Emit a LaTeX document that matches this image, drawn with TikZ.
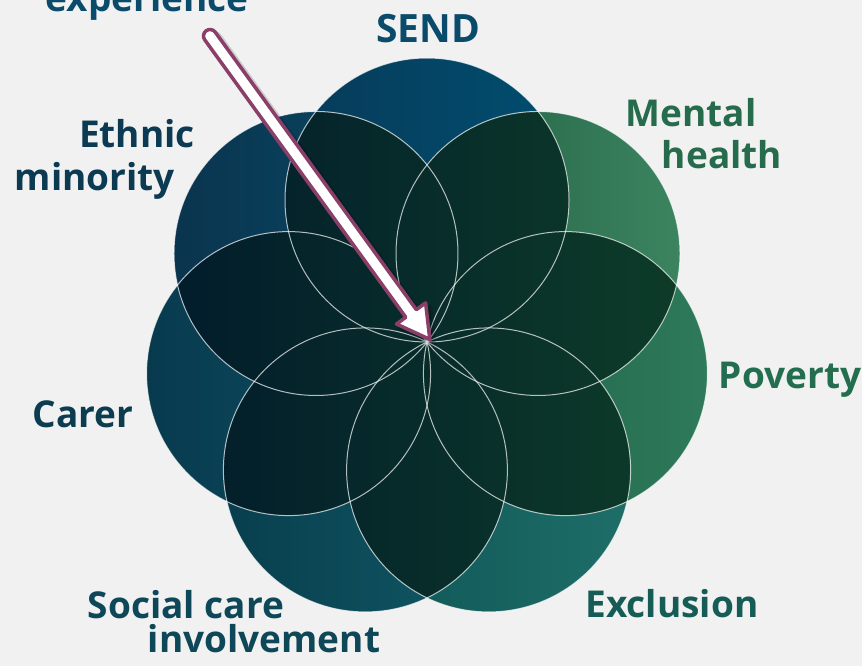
\documentclass[tikz,border=0pt]{standalone}
\usepackage{fontspec}
\setmainfont{Open Sans}
\usetikzlibrary{calc}
\definecolor{bg}{RGB}{241,241,241}
\definecolor{sendL}{RGB}{8,58,88}\definecolor{sendR}{RGB}{0,78,112}
\definecolor{mentL}{RGB}{30,92,66}\definecolor{mentR}{RGB}{60,132,96}
\definecolor{povL}{RGB}{30,96,72}\definecolor{povR}{RGB}{46,122,90}
\definecolor{exclL}{RGB}{14,84,86}\definecolor{exclR}{RGB}{30,110,104}
\definecolor{socL}{RGB}{8,62,78}\definecolor{socR}{RGB}{18,90,102}
\definecolor{carL}{RGB}{8,58,78}\definecolor{carR}{RGB}{14,82,100}
\definecolor{ethL}{RGB}{10,52,78}\definecolor{ethR}{RGB}{8,76,104}
\definecolor{ovL}{RGB}{1,26,44}\definecolor{ovM}{RGB}{3,40,52}\definecolor{ovR}{RGB}{14,62,40}
\definecolor{sendT}{RGB}{10,74,106}
\definecolor{ethT}{RGB}{11,58,82}
\definecolor{mentT}{RGB}{38,108,76}
\definecolor{povT}{RGB}{36,110,80}
\definecolor{exclT}{RGB}{22,92,86}
\definecolor{socT}{RGB}{14,72,88}
\definecolor{carT}{RGB}{12,60,80}
\definecolor{arrowP}{RGB}{139,62,104}
\begin{document}
\begin{tikzpicture}[x=1pt,y=1pt,
  lab/.style={font=\bfseries\fontsize{37}{40}\selectfont, inner sep=0pt, anchor=base},
  petalline/.style={white, draw opacity=0.7, line width=1pt}]
\useasboundingbox (0,0) rectangle (862,-666);
\fill[bg] (0,0) rectangle (862,-666);
\clip (0,0) rectangle (862,-666);
\def\R{142pt}
\foreach \k in {0,...,6}
  \coordinate (c\k) at ({427+142*cos(90-\k*360/7)}, {-342+142*sin(90-\k*360/7)});
% single circles
\foreach \k/\cl/\cr in {0/sendL/sendR,1/mentL/mentR,2/povL/povR,3/exclL/exclR,4/socL/socR,5/carL/carR,6/ethL/ethR}
  \shade[left color=\cl, right color=\cr] (c\k) circle[radius=\R];
% overlaps
\foreach \i in {0,...,5}{
  \pgfmathtruncatemacro{\js}{\i+1}
  \foreach \j in {\js,...,6}{
    \begin{scope}
      \clip (c\i) circle[radius=\R];
      \clip (c\j) circle[radius=\R];
      \shade[left color=ovL, middle color=ovM, right color=ovR] (140,-40) rectangle (715,-620);
    \end{scope}
  }}
% outlines
\foreach \k in {0,...,6}
  \draw[petalline] (c\k) circle[radius=\R];
% labels
\node[lab, text=sendT] (exp) at (147,-12) {experience};
\node[lab, text=sendT, font=\bfseries\fontsize{39}{42}\selectfont] (send) at (428,-43) {SEND};
\node[lab, text=ethT] (eth1) at (137,-147) {Ethnic};
\node[lab, text=ethT] (eth2) at (95,-190) {minority};
\node[lab, text=mentT] (ment1) at (691,-127) {Mental};
\node[lab, text=mentT] (ment2) at (722,-168) {health};
\node[lab, text=povT] (pov) at (790,-388) {Poverty};
\node[lab, text=exclT] (excl) at (672,-617) {Exclusion};
\node[lab, text=socT] (soc1) at (186,-618) {Social care};
\node[lab, text=socT] (soc2) at (264,-652) {involvement};
\node[lab, text=carT] (car) at (83,-427) {Carer};
% arrow
\coordinate (atail) at (210,-36);
\coordinate (atip) at (431,-341);
\coordinate (ah) at ($(atip)!34pt!(atail)$);
\coordinate (atipP) at ($(atip)!2pt!(atail)$);
\coordinate (aR) at ($(ah)!6.5pt!90:(atip)$);
\coordinate (aL) at ($(ah)!6.5pt!-90:(atip)$);
\coordinate (aBR) at ($(ah)!18pt!90:(atip)$);
\coordinate (aBL) at ($(ah)!18pt!-90:(atip)$);
\coordinate (aTR) at ($(atail)!6.5pt!90:(atip)$);
\coordinate (aTL) at ($(atail)!6.5pt!-90:(atip)$);
\begin{scope}[transform canvas={shift={(4pt,-4pt)}}]
  \fill[black, opacity=0.16, draw=black, draw opacity=0.16, line width=5pt, line join=round]
    (atipP) -- (aBR) -- (aR) -- (aTR) arc[start angle=35.9, end angle=215.9, radius=6.5pt] -- (aL) -- (aBL) -- cycle;
\end{scope}
\path[fill=white, draw=arrowP, line width=3.5pt, line join=round]
  (atipP) -- (aBR) -- (aR) -- (aTR) arc[start angle=35.9, end angle=215.9, radius=6.5pt] -- (aL) -- (aBL) -- cycle;
\end{tikzpicture}
\end{document}
